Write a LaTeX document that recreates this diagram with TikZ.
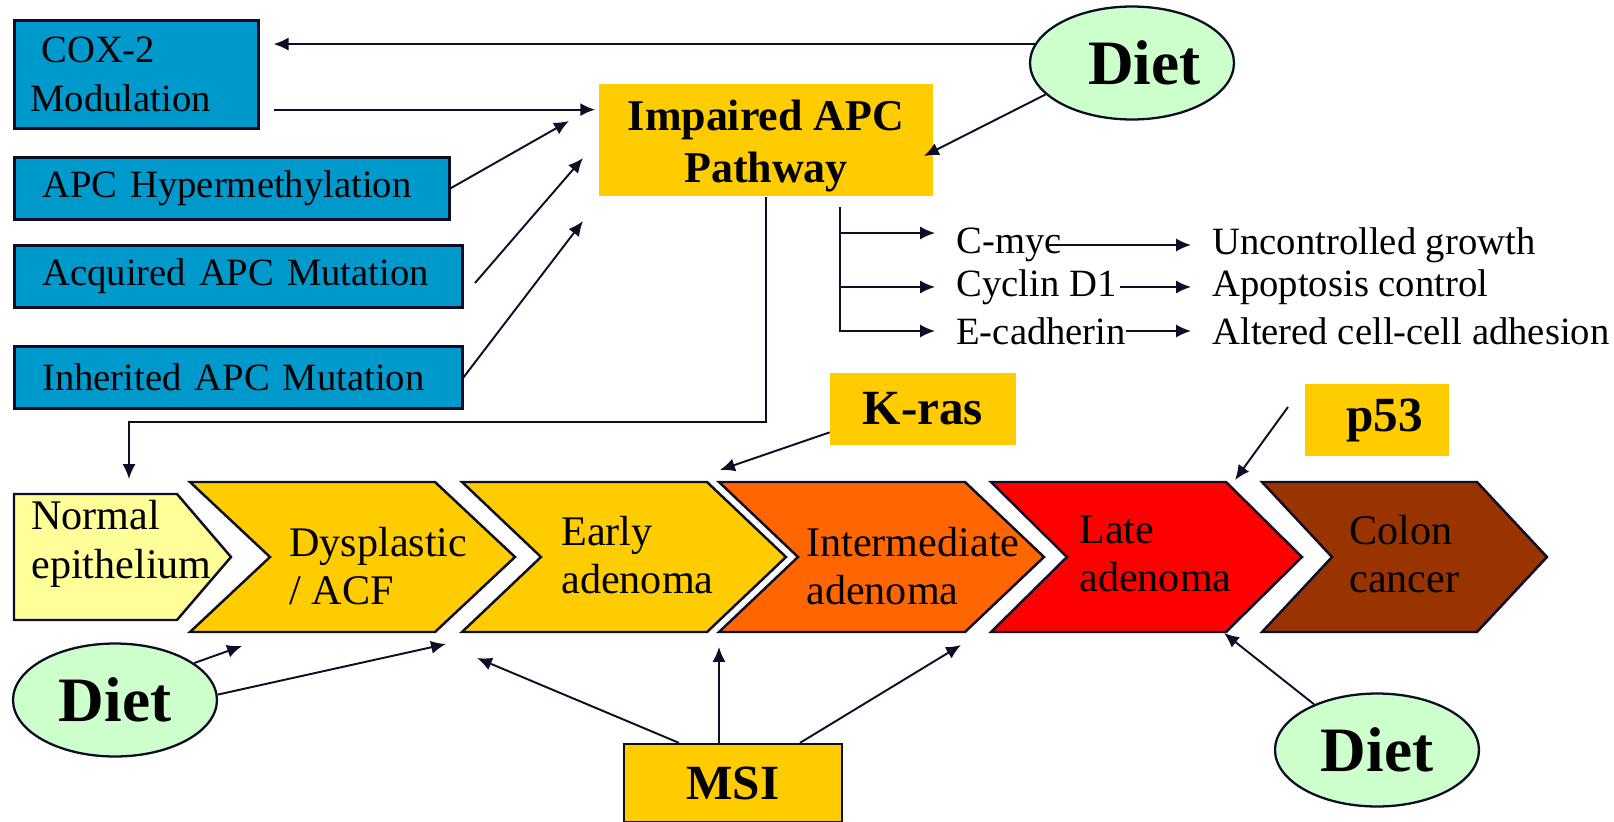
\documentclass[tikz,border=0pt]{standalone}
\usepackage{fontspec}
\setmainfont{Liberation Serif}
\usepackage{tikz}
\usetikzlibrary{arrows.meta,positioning}
\usetikzlibrary{shapes.geometric}

\definecolor{apcblue}{HTML}{0099CC}
\definecolor{apcyellow}{HTML}{FFCC00}
\definecolor{paleyellow}{HTML}{FFFF99}
\definecolor{stageorange}{HTML}{FF6600}
\definecolor{stagered}{HTML}{FF0000}
\definecolor{stagebrown}{HTML}{993300}
\definecolor{dietgreen}{HTML}{CCFFCC}
\definecolor{linec}{HTML}{0D0D26}

\newcommand{\chevron}[4]{\draw[stage,fill=#4] (#1,482) -- (#2,482) -- ({#2+#3},557) -- (#2,632) -- (#1,632) -- ({#1+#3},557) -- cycle;}

\begin{document}
\begin{tikzpicture}
		[x=0.02cm,y=-0.02cm,
		arr/.style={-{Latex[length=8.5pt,width=7.5pt]},line width=1.1pt,draw=linec},
		blue box/.style={draw=linec,line width=1.5pt,fill=apcblue,anchor=north west,align=left,inner xsep=0.56cm,minimum height=1.24cm,font=\fontsize{22}{27.5}\selectfont},
		gene box/.style={fill=apcyellow,font=\bfseries\fontsize{28}{33}\selectfont,align=center},
		diet node/.style={ellipse,draw=linec,line width=1.3pt,fill=dietgreen,minimum width=4.08cm,minimum height=2.26cm,inner sep=0pt,font=\bfseries\fontsize{36}{42}\selectfont},
		stage/.style={draw=linec,line width=1.4pt,line join=miter},
		stage text/.style={anchor=west,align=left,inner sep=0pt,font=\fontsize{24}{27.5}\selectfont},
		effect node/.style={anchor=west,inner xsep=0.42cm,inner ysep=0pt,font=\fontsize{22}{27.5}\selectfont}]
		\useasboundingbox (0,0) rectangle (1614,822);
		
		\node[blue box,inner xsep=0.32cm,text width=4.24cm,minimum height=2.16cm] (cox) at (13,19) {\hspace*{0.22cm}COX-2\\Modulation};
		\node[blue box,text width=7.58cm] (hyper) at (13,156) {APC Hypermethylation};
		\node[blue box,text width=7.84cm] (acq) at (13,244) {Acquired APC Mutation};
		\node[blue box,text width=7.84cm] (inh) at (13,345) {Inherited APC Mutation};
		
		\node[gene box,inner ysep=0pt,minimum width=6.7cm,minimum height=2.26cm,font=\bfseries\fontsize{25}{29.5}\selectfont] (imp) at (766,140) {\rule{0pt}{0.85cm}Impaired APC\\Pathway};
		\node[gene box,minimum width=3.72cm,minimum height=1.44cm] (kras) at (923,409) {K-ras};
		\node[gene box,minimum width=2.9cm,minimum height=1.46cm] (p53) at (1377,420) {\hspace*{0.3cm}p53};
		\node[gene box,draw=linec,line width=1.3pt,minimum width=4.36cm,minimum height=1.56cm] (msi) at (733,783) {MSI};
		
		\node[diet node] (dietA) at (1132,63) {\hspace*{0.5cm}Diet};
		\node[diet node] (dietB) at (115,700) {Diet};
		\node[diet node] (dietC) at (1377,750) {Diet};
		
		\draw[stage,fill=paleyellow] (14,494) -- (177,494) -- (231,557) -- (177,620) -- (14,620) -- cycle;
		\chevron{190}{435}{80}{apcyellow}
		\chevron{462}{707}{79}{apcyellow}
		\chevron{719}{965}{79}{stageorange}
		\chevron{991}{1226}{76}{stagered}
		\chevron{1262}{1477}{70}{stagebrown}
		
		\node[stage text] (normal) at (31,544) {Normal\\epithelium};
		\node[stage text] (dysp) at (289,566) {Dysplastic\\/ ACF};
		\node[stage text] (early) at (561,555) {Early\\adenoma};
		\node[stage text] (inter) at (806,566) {Intermediate\\adenoma};
		\node[stage text] (late) at (1079,554) {Late\\adenoma};
		\node[stage text] (colon) at (1349,554) {Colon\\cancer};
		
		\node[effect node] (cmyc) at (935,245) {C-myc};
		\node[effect node] (cyclin) at (935,287) {Cyclin D1};
		\node[effect node] (ecad) at (935,331) {E-cadherin};
		\node[effect node] (growth) at (1191,245) {Uncontrolled growth};
		\node[effect node] (apop) at (1191,287) {Apoptosis control};
		\node[effect node] (adh) at (1191,331) {Altered cell-cell adhesion};
		
		\coordinate (brtop) at (840,207);
		\coordinate (cmycin) at ([yshift=0.24cm]cmyc.west);
		\coordinate (impA) at (569,121);
		\coordinate (impB) at (583,158);
		\coordinate (impC) at (583,221);
		\coordinate (impD) at (924,156);
		\coordinate (acqout) at (475,283);
		\coordinate (normin) at (129,479);
		\coordinate (krasin) at (720,470);
		\coordinate (p53out) at (1288,407);
		\coordinate (latein) at (1235,480);
		\coordinate (dyspin) at (242,646);
		\coordinate (gapA) at (446,644);
		\coordinate (gapB) at (477,658);
		\coordinate (gapC) at (719,647);
		\coordinate (gapD) at (961,645);
		\coordinate (gapE) at (1224,633);
		\coordinate (coxout) at ([yshift=0.4cm]cox.south east);
		
		\draw[arr,shorten >=0.28cm] (dietA.169) -- (dietA.169 -| cox.east);
		\draw[arr,shorten <=0.28cm,shorten >=0.06cm] (coxout) -- (coxout -| imp.west);
		\draw[arr] (hyper.east) -- (impA);
		\draw[arr] (acqout) -- (impB);
		\draw[arr] (inh.east) -- (impC);
		\draw[arr] (dietA.200) -- (impD);
		\draw[arr] (imp.south) -- ++(0,225) -| (normin);
		
		\draw[arr] (brtop) |- (ecad.west);
		\draw[arr] (brtop |- cmycin) -- (cmycin);
		\draw[arr] (brtop |- cyclin.west) -- (cyclin.west);
		\draw[arr] ([xshift=-0.7cm]cmyc.east) -- (growth.west);
		\draw[arr] ([xshift=-0.36cm]cyclin.east) -- (apop.west);
		\draw[arr] ([xshift=-0.42cm]ecad.east) -- (adh.west);
		
		\draw[arr] ([yshift=0.26cm]kras.south west) -- (krasin);
		\draw[arr] (p53out) -- (latein);
		\draw[arr] (dietB.25) -- (dyspin);
		\draw[arr] (dietB.3) -- (gapA);
		\draw[arr] ([xshift=-1.08cm]msi.north) -- (gapB);
		\draw[arr] (gapC |- msi.north) -- (gapC);
		\draw[arr] ([xshift=1.34cm]msi.north) -- (gapD);
		\draw[arr] (dietC.144) -- (gapE);
\end{tikzpicture}
\end{document}
